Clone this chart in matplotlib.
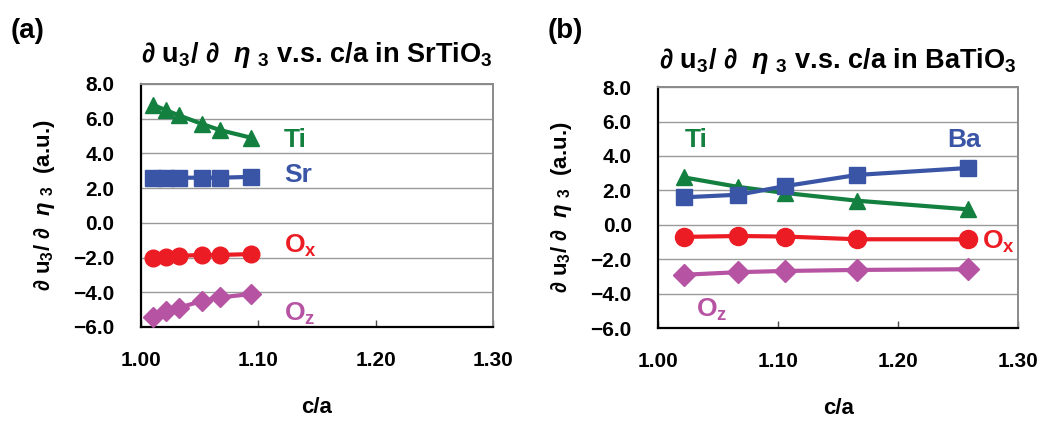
import matplotlib
matplotlib.use("Agg")
import matplotlib.pyplot as plt

plt.rcParams["font.family"] = ["Liberation Sans", "DejaVu Sans"]
plt.rcParams["font.weight"] = "bold"
plt.rcParams["axes.titleweight"] = "bold"
plt.rcParams["axes.labelweight"] = "bold"
plt.rcParams["mathtext.fontset"] = "custom"
plt.rcParams["mathtext.rm"] = "Liberation Sans:bold"
plt.rcParams["mathtext.it"] = "Liberation Sans:italic:bold"
plt.rcParams["mathtext.default"] = "regular"

# SrTiO3: d u3 / d eta3 vs c/a
sto_ca = [1.010, 1.021, 1.032, 1.052, 1.067, 1.094]
sto_ti = [6.8, 6.5, 6.2, 5.7, 5.35, 4.9]
sto_sr = [2.6, 2.6, 2.6, 2.6, 2.6, 2.65]
sto_ox = [-2.0, -1.95, -1.9, -1.85, -1.85, -1.8]
sto_oz = [-5.4, -5.1, -4.9, -4.5, -4.3, -4.1]

# BaTiO3
bto_ca = [1.022, 1.067, 1.106, 1.166, 1.258]
bto_ti = [2.75, 2.2, 1.85, 1.4, 0.9]
bto_ba = [1.6, 1.75, 2.25, 2.9, 3.3]
bto_ox = [-0.7, -0.65, -0.68, -0.84, -0.84]
bto_oz = [-2.9, -2.75, -2.68, -2.62, -2.58]

GREEN = "#138040"
BLUE = "#3a55a6"
RED = "#ec1c24"
PURPLE = "#b653a2"

xticks = [1.00, 1.10, 1.20, 1.30]
yticks = [8.0, 6.0, 4.0, 2.0, 0.0, -2.0, -4.0, -6.0]

DU_DETA = "\u2202 u$_3$/ \u2202  $\\it{\\eta}$ $_3$"

fig = plt.figure(figsize=(10.38, 4.25), dpi=100)
ax_a = fig.add_axes([0.1358, 0.2306, 0.3391, 0.5718])
ax_b = fig.add_axes([0.634, 0.228, 0.3468, 0.567])


def style_axes(ax):
    ax.set_xlim(1.0, 1.3)
    ax.set_ylim(-6, 8)
    ax.set_xticks(xticks)
    ax.set_xticklabels([f"{t:.2f}" for t in xticks], fontsize=15)
    ax.set_yticks(yticks)
    ax.set_yticklabels([f"{t:.1f}".replace("-", "\u2212") for t in yticks], fontsize=15)
    ax.tick_params(axis="x", direction="in", length=5, width=1, pad=17, color="0.3")
    ax.tick_params(axis="y", direction="in", length=0, pad=19)
    ax.yaxis.grid(True, color="#9a9a9a", lw=1)
    ax.set_axisbelow(True)
    for s in ("left", "bottom"):
        ax.spines[s].set_color("black")
        ax.spines[s].set_linewidth(1.6)
    for s in ("top", "right"):
        ax.spines[s].set_color("#8a8a8a")
        ax.spines[s].set_linewidth(1.4)
    ax.set_xlabel("c/a", fontsize=16, labelpad=20)
    ax.set_ylabel(DU_DETA + "  (a.u.)", fontsize=16, labelpad=12)


def series(ax, x, y, color, marker, ms):
    ax.plot(x, y, color=color, lw=3, marker=marker, ms=ms, mec=color, mfc=color, clip_on=False, zorder=3)


style_axes(ax_a)
series(ax_a, sto_ca, sto_ti, GREEN, "^", 12)
series(ax_a, sto_ca, sto_sr, BLUE, "s", 11)
series(ax_a, sto_ca, sto_ox, RED, "o", 12)
series(ax_a, sto_ca, sto_oz, PURPLE, "D", 10)
lab = dict(fontsize=19, ha="left", va="center")
ax_a.text(1.122, 4.75, "Ti", color=GREEN, **lab)
ax_a.text(1.122, 2.75, "Sr", color=BLUE, **lab)
ax_a.text(1.122, -1.3, "O$_x$", color=RED, **lab)
ax_a.text(1.122, -5.25, "O$_z$", color=PURPLE, **lab)
ax_a.set_title(DU_DETA + " v.s. c/a in SrTiO$_3$", fontsize=19.5, pad=16)

style_axes(ax_b)
series(ax_b, bto_ca, bto_ti, GREEN, "^", 12)
series(ax_b, bto_ca, bto_ba, BLUE, "s", 12)
series(ax_b, bto_ca, bto_ox, RED, "o", 13)
series(ax_b, bto_ca, bto_oz, PURPLE, "D", 11)
ax_b.text(1.022, 4.95, "Ti", color=GREEN, **lab)
ax_b.text(1.241, 4.95, "Ba", color=BLUE, **lab)
ax_b.text(1.270, -1.0, "O$_x$", color=RED, **lab)
ax_b.text(1.032, -4.95, "O$_z$", color=PURPLE, **lab)
ax_b.set_title(DU_DETA + " v.s. c/a in BaTiO$_3$", fontsize=19.5, pad=14)

fig.text(0.010, 0.927, "(a)", fontsize=20, va="center")
fig.text(0.528, 0.927, "(b)", fontsize=20, va="center")

fig.savefig("out.png", dpi=100)
